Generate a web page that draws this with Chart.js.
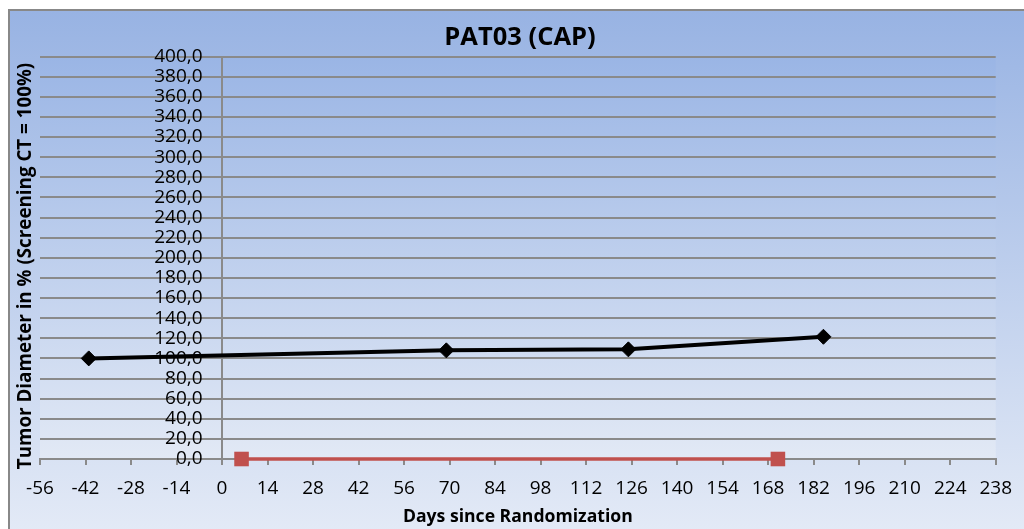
<!DOCTYPE html>
<html>
<head>
<meta charset="utf-8">
<script src="https://cdn.jsdelivr.net/npm/chart.js@4"></script>
<style>
  html, body { margin: 0; padding: 0; background: #ffffff; }
  #wrap { position: relative; width: 1024px; height: 529px; overflow: hidden; }
  #frame {
    position: absolute; left: 8px; top: 9px; width: 1030px; height: 540px;
    border-top: 2px solid #888888; border-left: 2px solid #888888;
    background: linear-gradient(to bottom, #98b3e3 0%, #e6ecf7 100%);
  }
  #c { position: absolute; left: 0; top: 0; }
</style>
</head>
<body>
<div id="wrap">
  <div id="frame"></div>
  <canvas id="c" width="1024" height="529"></canvas>
</div>
<script>
// Tumour measurements (days since randomization, % of screening CT diameter)
const tumorDays = [-41, 69, 125, 185];
const tumorPct = [100.0, 108.0, 109.0, 121.5];

// Treatment period markers on the baseline
const therapyDays = [6, 171];
const therapyPct = [0, 0];

// Axis ranges and tick steps
const xMin = -56, xMax = 238, xStep = 14;
const yMin = 0, yMax = 400, yStep = 20;

// The value axis crosses the day axis at day 0; its labels sit just left of it
const yCrossDay = 0;
const yLabelDay = -6;

const chartTitle = 'PAT03 (CAP)';
const xTitle = 'Days since Randomization';
const yTitle = 'Tumor Diameter in % (Screening CT = 100%)';

const FONT = '"Open Sans", "Liberation Sans", sans-serif';

function toPoints(xs, ys) {
  return xs.map((x, i) => ({ x: x, y: ys[i] }));
}

// Plot-area gradient and the rotated y-axis caption
const plotDecor = {
  id: 'plotDecor',
  beforeDraw(chart) {
    const { ctx, chartArea: a } = chart;
    const g = ctx.createLinearGradient(0, a.top, 0, a.bottom);
    g.addColorStop(0, '#9ab5e5');
    g.addColorStop(1, '#e2e9f5');
    ctx.save();
    ctx.fillStyle = g;
    ctx.fillRect(a.left, a.top, a.right - a.left, a.bottom - a.top);
    ctx.restore();
  },
  afterDraw(chart) {
    const { ctx } = chart;
    ctx.save();
    ctx.translate(26, 266);
    ctx.rotate(-Math.PI / 2);
    ctx.font = 'bold 18.8px ' + FONT;
    ctx.fillStyle = '#000000';
    ctx.textAlign = 'center';
    ctx.textBaseline = 'middle';
    ctx.fillText(yTitle, 0, 0);
    ctx.restore();
  }
};

const valueTickFont = { family: FONT, size: 19 };

new Chart(document.getElementById('c'), {
  type: 'scatter',
  data: {
    datasets: [
      {
        label: 'Tumor',
        data: toPoints(tumorDays, tumorPct),
        showLine: true,
        borderColor: '#000000',
        backgroundColor: '#000000',
        borderWidth: 4,
        pointStyle: 'rectRot',
        pointRadius: 7.5,
        pointBorderWidth: 1,
        clip: false,
        order: 1
      },
      {
        label: 'Therapy',
        data: toPoints(therapyDays, therapyPct),
        showLine: true,
        borderColor: '#c0504d',
        backgroundColor: '#c0504d',
        borderWidth: 3.6,
        pointStyle: 'rect',
        pointRadius: 10.3,
        pointBorderWidth: 0,
        clip: false,
        order: 2
      }
    ]
  },
  options: {
    responsive: false,
    animation: false,
    events: [],
    layout: { padding: { left: 40, right: 24, top: 0, bottom: 0 } },
    plugins: {
      legend: { display: false },
      tooltip: { enabled: false },
      title: {
        display: true,
        text: chartTitle,
        color: '#000000',
        font: { family: FONT, size: 25.5, weight: 'bold', lineHeight: 1.2 },
        padding: { top: 22, bottom: 4 }
      }
    },
    scales: {
      x: {
        type: 'linear',
        position: 'bottom',
        min: xMin,
        max: xMax,
        afterFit(scale) { scale.height = 70; },
        ticks: {
          stepSize: xStep,
          autoSkip: false,
          maxRotation: 0,
          color: '#000000',
          padding: 12,
          font: { family: FONT, size: 19 }
        },
        grid: {
          drawOnChartArea: false,
          drawTicks: true,
          tickLength: 6,
          color: '#8a8a8a',
          lineWidth: 2
        },
        border: { display: true, color: '#8a8a8a', width: 2 },
        title: {
          display: true,
          text: xTitle,
          color: '#000000',
          font: { family: FONT, size: 17.6, weight: 'bold', lineHeight: 1.2 },
          padding: { top: 0, bottom: 1.5 }
        }
      },
      y: {
        type: 'linear',
        position: { x: yCrossDay },
        min: yMin,
        max: yMax,
        ticks: { stepSize: yStep, display: false },
        grid: {
          drawTicks: false,
          color: '#8a8a8a',
          lineWidth: 2
        },
        border: { display: true, color: '#8a8a8a', width: 2 }
      },
      yLabels: {
        type: 'linear',
        axis: 'y',
        position: { x: yLabelDay },
        min: yMin,
        max: yMax,
        ticks: {
          stepSize: yStep,
          autoSkip: false,
          color: '#000000',
          padding: 0,
          font: valueTickFont,
          callback: (v) => v.toFixed(1).replace('.', ',')
        },
        grid: { display: false, drawTicks: false },
        border: { display: false }
      }
    }
  },
  plugins: [plotDecor]
});
</script>
</body>
</html>
